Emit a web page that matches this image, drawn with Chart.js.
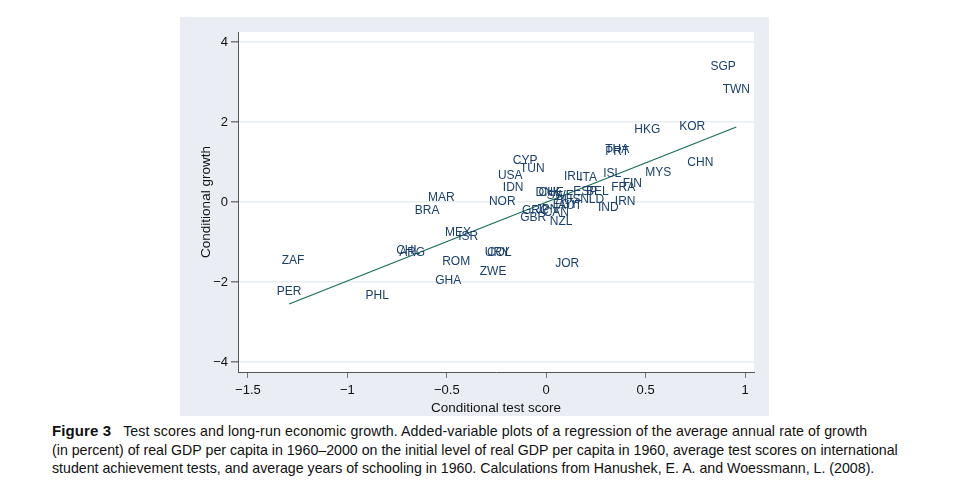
<!DOCTYPE html>
<html>
<head>
<meta charset="utf-8">
<script src="https://cdn.jsdelivr.net/npm/chart.js@4.4.1/dist/chart.umd.min.js"></script>
<style>
  body { margin: 0; background: #fff; font-family: "Liberation Sans", Arial, sans-serif; }
  #panel { position: absolute; left: 180px; top: 17px; width: 589px; height: 399px; background: #eaeef4; }
  #caption { position: absolute; left: 52px; top: 422px; font-size: 14.2px; line-height: 18.5px; color: #111; white-space: nowrap; }
  #caption b { font-size: 15px; margin-right: 12px; }
  #caption .first { letter-spacing: 0.1px; }
</style>
</head>
<body>
<div id="panel"><canvas id="growthChart" width="589" height="399"></canvas></div>
<div id="caption">
  <div class="first"><b>Figure 3</b>Test scores and long-run economic growth. Added-variable plots of a regression of the average annual rate of growth</div>
  <div>(in percent) of real GDP per capita in 1960–2000 on the initial level of real GDP per capita in 1960, average test scores on international</div>
  <div>student achievement tests, and average years of schooling in 1960. Calculations from Hanushek, E. A. and Woessmann, L. (2008).</div>
</div>
<script>
// Country codes and their added-variable coordinates
const countries = ['SGP', 'TWN', 'HKG', 'KOR', 'CHN', 'MYS', 'THA', 'PRT', 'ISL', 'FIN',
  'FRA', 'IRN', 'IND', 'ITA', 'IRL', 'ESP', 'BEL', 'NLD', 'CYP', 'TUN',
  'USA', 'IDN', 'NOR', 'DNK', 'CHE', 'SWE', 'AUS', 'AUT', 'EGY', 'JPN',
  'CAN', 'GRC', 'GBR', 'NZL', 'MEX', 'ISR', 'CHL', 'ARG', 'ROM', 'GHA',
  'URY', 'COL', 'ZWE', 'JOR', 'MAR', 'BRA', 'ZAF', 'PER', 'PHL'];
const testScore = [0.89, 0.956, 0.508, 0.734, 0.775, 0.563, 0.357, 0.357, 0.332, 0.433,
  0.387, 0.397, 0.312, 0.211, 0.136, 0.196, 0.257, 0.231, -0.106, -0.07,
  -0.181, -0.166, -0.221, 0.01, 0.025, 0.07, 0.11, 0.12, 0.096, 0.005,
  0.05, -0.055, -0.065, 0.075, -0.443, -0.392, -0.694, -0.674, -0.453, -0.493,
  -0.246, -0.236, -0.267, 0.106, -0.528, -0.599, -1.273, -1.293, -0.85];
const growth = [3.38, 2.8, 1.8, 1.875, 0.975, 0.725, 1.3, 1.25, 0.7, 0.45,
  0.35, 0.0, -0.15, 0.6, 0.625, 0.25, 0.25, 0.05, 1.025, 0.825,
  0.65, 0.35, 0.0, 0.225, 0.225, 0.15, 0.05, -0.1, -0.075, -0.2,
  -0.275, -0.225, -0.4, -0.5, -0.775, -0.875, -1.225, -1.275, -1.5, -1.975,
  -1.275, -1.275, -1.75, -1.55, 0.1, -0.225, -1.475, -2.25, -2.35];

// Fitted line endpoints
const fitX = [-1.293, 0.956];
const fitY = [-2.55, 1.875];

const xTicks = [-1.5, -1, -0.5, 0, 0.5, 1];
const yTicks = [-4, -2, 0, 2, 4];

const labelColor = '#1a3f6b';
const lineColor = '#1c6e5a';
const fontFamily = '"Liberation Sans", Arial, sans-serif';

function fmt(v) {
    return String(v).replace('-', '\u2212');
}

// White plot region
const plotBackground = {
    id: 'plotBackground',
    beforeDraw(chart) {
        const a = chart.chartArea;
        const ctx = chart.ctx;
        ctx.save();
        ctx.fillStyle = '#ffffff';
        ctx.fillRect(a.left, a.top, a.right - a.left, a.bottom - a.top);
        ctx.restore();
    }
};

// Country code labels centred on each point
const countryLabels = {
    id: 'countryLabels',
    afterDatasetsDraw(chart) {
        const meta = chart.getDatasetMeta(1);
        const ctx = chart.ctx;
        ctx.save();
        ctx.font = '12px ' + fontFamily;
        ctx.fillStyle = labelColor;
        ctx.textAlign = 'center';
        ctx.textBaseline = 'middle';
        meta.data.forEach((pt, i) => {
            ctx.fillText(countries[i], pt.x, pt.y);
        });
        ctx.restore();
    }
};

const ctx = document.getElementById('growthChart').getContext('2d');
new Chart(ctx, {
    type: 'scatter',
    data: {
        datasets: [{
            type: 'line',
            data: fitX.map((x, i) => ({ x: x, y: fitY[i] })),
            borderColor: lineColor,
            borderWidth: 1.3,
            pointRadius: 0,
            fill: false,
            order: 2
        }, {
            data: testScore.map((x, i) => ({ x: x, y: growth[i] })),
            pointRadius: 0,
            order: 1
        }]
    },
    options: {
        responsive: false,
        animation: false,
        layout: { padding: { top: 15, right: 15, left: 0, bottom: 0 } },
        plugins: {
            legend: { display: false },
            tooltip: { enabled: false }
        },
        scales: {
            x: {
                type: 'linear',
                min: -1.55,
                max: 1.045,
                afterBuildTicks: function(scale) {
                    scale.ticks = xTicks.map(v => ({ value: v }));
                },
                afterFit: function(scale) { scale.height = 44; },
                grid: {
                    display: true,
                    drawOnChartArea: false,
                    drawTicks: true,
                    tickLength: 6,
                    color: '#777'
                },
                border: { display: true, color: '#555', width: 1 },
                ticks: {
                    color: '#111',
                    padding: 5,
                    font: { size: 13, family: fontFamily },
                    maxRotation: 0,
                    callback: v => fmt(v)
                },
                title: {
                    display: true,
                    text: 'Conditional test score',
                    color: '#111',
                    padding: { top: 2, bottom: 0 },
                    font: { size: 13.5, family: fontFamily }
                }
            },
            y: {
                type: 'linear',
                min: -4.25,
                max: 4.25,
                afterBuildTicks: function(scale) {
                    scale.ticks = yTicks.map(v => ({ value: v }));
                },
                afterFit: function(scale) { scale.width = 58; },
                grid: {
                    display: true,
                    color: '#e6eef2',
                    tickColor: '#777',
                    tickLength: 7,
                    lineWidth: 1.5
                },
                border: { display: true, color: '#555', width: 1 },
                ticks: {
                    color: '#111',
                    padding: 3,
                    font: { size: 13, family: fontFamily },
                    callback: v => fmt(v)
                },
                title: {
                    display: true,
                    text: 'Conditional growth',
                    color: '#111',
                    padding: { top: 18, bottom: 0 },
                    font: { size: 13.5, family: fontFamily }
                }
            }
        }
    },
    plugins: [plotBackground, countryLabels]
});
</script>
</body>
</html>
